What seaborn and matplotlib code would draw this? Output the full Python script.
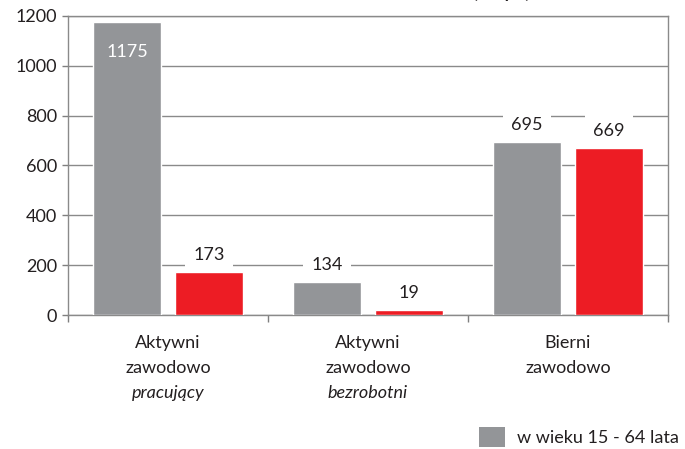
import matplotlib
matplotlib.use("Agg")
import matplotlib.pyplot as plt
import seaborn as sns
import pandas as pd
from matplotlib.patches import Patch

categories = ["Aktywni zawodowo pracujący", "Aktywni zawodowo bezrobotni", "Bierni zawodowo"]
label_lines = [("Aktywni", "zawodowo", "pracujący"),
               ("Aktywni", "zawodowo", "bezrobotni"),
               ("Bierni", "zawodowo", "")]
series = ["w wieku 15 - 64 lata", "seria 2"]
values_s1 = [1175, 134, 695]
values_s2 = [173, 19, 669]
colors = ["#939598", "#ED1C24"]
yticks = [0, 200, 400, 600, 800, 1000, 1200]

df = pd.DataFrame({
    "kat": categories * 2,
    "seria": [series[0]] * 3 + [series[1]] * 3,
    "val": values_s1 + values_s2,
})

sns.set_theme(style="white")
plt.rcParams["font.family"] = ["Lato", "DejaVu Sans"]

fig = plt.figure(figsize=(6.85, 4.49), dpi=100)
ax = fig.add_axes([68/685, 1 - 315/449, 600/685, 299/449])

sns.barplot(data=df, x="kat", y="val", hue="seria", order=categories,
            hue_order=series, palette=colors, width=0.82, gap=0.159,
            saturation=1, ax=ax, legend=False, zorder=3)

ax.set_xlim(-0.5, 2.5)
ax.set_ylim(0, 1200)
ax.set_yticks(yticks)
ax.set_yticklabels([str(v) for v in yticks], fontsize=13, color="#231F20")
ax.yaxis.grid(True, color="#8a8a8a", linewidth=1.0, zorder=0)
ax.set_axisbelow(True)
ax.set_xticks([-0.5, 0.5, 1.5, 2.5])
ax.set_xticklabels([])
ax.tick_params(axis="x", direction="out", length=5, color="#7f7f7f", width=1, bottom=True)
ax.tick_params(axis="y", direction="out", length=4, color="#7f7f7f", width=1, left=True, pad=4)
ax.set_xlabel("")
ax.set_ylabel("")
for s in ax.spines.values():
    s.set_visible(True)
    s.set_color("#8a8a8a")
    s.set_linewidth(1.0)

# value labels
for i, cont in enumerate(ax.containers):
    for j, bar in enumerate(cont):
        v = bar.get_height()
        cx = bar.get_x() + bar.get_width() / 2
        if v > 1100:
            ax.text(cx, v - 120, f"{int(v)}", ha="center", va="center",
                    fontsize=13, color="white", zorder=5)
        else:
            ax.text(cx, v + 68, f"{int(v)}", ha="center", va="center",
                    fontsize=13, color="#231F20", zorder=5,
                    bbox=dict(boxstyle="square,pad=0.45", facecolor="white",
                              edgecolor="none"))

# category labels
for i, lines in enumerate(label_lines):
    for k, t in enumerate(lines):
        if not t:
            continue
        ax.text(i, -0.092 - k * 0.084, t, transform=ax.get_xaxis_transform(),
                ha="center", va="center", fontsize=13, color="#231F20",
                style="italic" if k == 2 else "normal")

# cropped title remnant (as in the reference, only its lower edge is visible)
fig.text(530/685, 1 + 8/449, "(w tys.)", ha="right", va="center",
         fontsize=13, color="#231F20", fontweight="bold")

fig.legend(handles=[Patch(facecolor=colors[0], edgecolor="none")],
           labels=[series[0]], loc="center left",
           bbox_to_anchor=(463/685, 1 - 437/449), frameon=False,
           fontsize=13, handlelength=1.4, handleheight=1.4, handletextpad=0.7,
           labelcolor="#231F20")

fig.savefig("out.png", dpi=100)
